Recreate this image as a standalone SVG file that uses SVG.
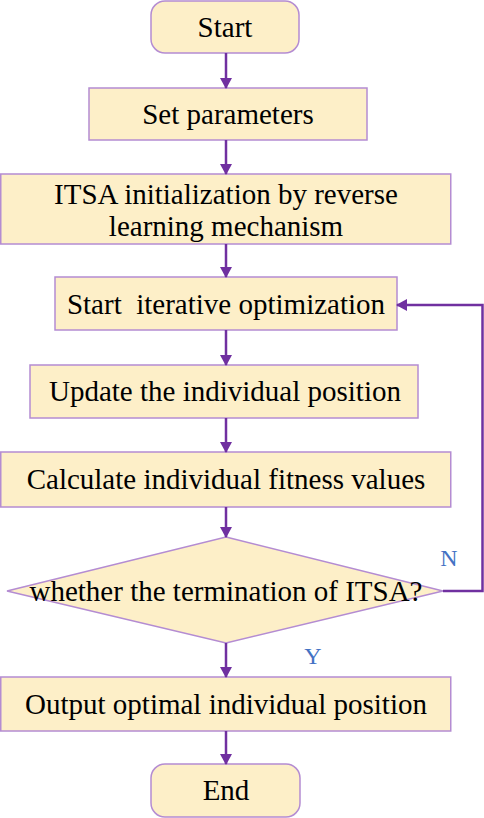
<svg xmlns="http://www.w3.org/2000/svg" width="484" height="818" viewBox="0 0 484 818">
<defs>
<style>
.n{fill:#fdefc8;stroke:#b48cd2;stroke-width:1.5}
.t{font-family:"Liberation Serif","Times New Roman",serif;font-size:29px;fill:#000;text-anchor:middle}
.c{stroke:#7030a0;stroke-width:2.5;fill:none}
.l{font-family:"Liberation Serif","Times New Roman",serif;font-size:24px;fill:#4472c4;text-anchor:middle}
</style>
<marker id="a" markerWidth="12" markerHeight="12" refX="10" refY="6" orient="auto" markerUnits="userSpaceOnUse" viewBox="0 0 12 12">
<path d="M0,0L11,6L0,12z" fill="#7030a0"/>
</marker>
</defs>
<rect width="484" height="818" fill="#fff"/>
<g id="start"><rect class="n" x="151" y="1" width="148" height="52" rx="14"/><text class="t" x="225" y="37">Start</text></g>
<g id="setparams"><rect class="n" x="89" y="88" width="278" height="52"/><text class="t" x="228" y="124">Set parameters</text></g>
<g id="init"><rect class="n" x="0.75" y="174" width="450" height="70"/><text class="t" x="226" y="204">ITSA initialization by reverse</text><text class="t" x="226" y="236">learning mechanism</text></g>
<g id="iter"><rect class="n" x="55" y="277" width="342" height="53"/><text class="t" x="226" y="314" xml:space="preserve">Start  iterative optimization</text></g>
<g id="update"><rect class="n" x="30" y="365" width="388" height="53"/><text class="t" x="225" y="401">Update the individual position</text></g>
<g id="calc"><rect class="n" x="0.75" y="452" width="450" height="55"/><text class="t" x="226" y="489">Calculate individual fitness values</text></g>
<g id="decision"><polygon class="n" points="226,537 443,591 226,643 7,591"/><text class="t" x="226" y="601">whether the termination of ITSA?</text></g>
<g id="output"><rect class="n" x="0.75" y="677" width="450" height="54"/><text class="t" x="226" y="714">Output optimal individual position</text></g>
<g id="end"><rect class="n" x="151" y="764" width="149" height="53" rx="14"/><text class="t" x="226" y="800">End</text></g>
<g id="connectors">
<line class="c" x1="226" y1="53" x2="226" y2="88" marker-end="url(#a)"/>
<line class="c" x1="226" y1="140" x2="226" y2="174" marker-end="url(#a)"/>
<line class="c" x1="226" y1="244" x2="226" y2="277" marker-end="url(#a)"/>
<line class="c" x1="226" y1="330" x2="226" y2="365" marker-end="url(#a)"/>
<line class="c" x1="226" y1="418" x2="226" y2="452" marker-end="url(#a)"/>
<line class="c" x1="226" y1="507" x2="226" y2="537" marker-end="url(#a)"/>
<line class="c" x1="226" y1="643" x2="226" y2="677" marker-end="url(#a)"/>
<line class="c" x1="226" y1="731" x2="226" y2="764" marker-end="url(#a)"/>
<polyline class="c" points="443,591 482.5,591 482.5,305 397,305" marker-end="url(#a)"/>
<text class="l" x="449" y="566">N</text>
<text class="l" x="313" y="664">Y</text>
</g>
</svg>
